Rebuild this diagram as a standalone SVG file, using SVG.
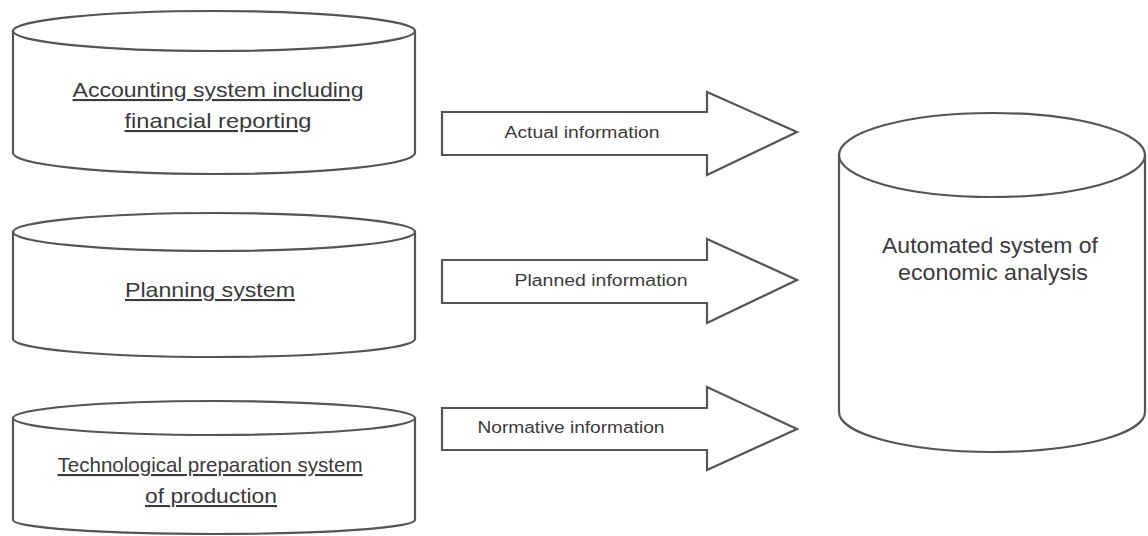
<svg xmlns="http://www.w3.org/2000/svg" width="1148" height="536" viewBox="0 0 1148 536">
<style>
.shape{fill:#fff;stroke:#555;stroke-width:2.2}
.lbl{font-family:"Liberation Sans",Arial,sans-serif;fill:#3a3a3a;text-anchor:middle}
.cyl{font-size:21px;text-decoration:underline}
.arr{font-size:16px}
.big{font-size:22px}
</style>
<rect width="1148" height="536" fill="#fff"/>
<g id="connectors">
<g id="arrow-actual">
<polygon class="shape" points="442,112 707,112 707,92 797,132 707,175 707,155 442,155"/>
<text class="lbl arr" x="582" y="138" textLength="155" lengthAdjust="spacingAndGlyphs">Actual information</text>
</g>
<g id="arrow-planned">
<polygon class="shape" points="442,260 707,260 707,239 797,280 707,323 707,303 442,303"/>
<text class="lbl arr" x="601" y="286" textLength="173" lengthAdjust="spacingAndGlyphs">Planned information</text>
</g>
<g id="arrow-normative">
<polygon class="shape" points="442,408 707,408 707,387 797,429 707,470 707,450 442,450"/>
<text class="lbl arr" x="571" y="433" textLength="187" lengthAdjust="spacingAndGlyphs">Normative information</text>
</g>
</g>
<g id="accounting">
<path class="shape" d="M13,31 L13,153 A201,21 0 0 0 415,153 L415,31 Z"/>
<ellipse class="shape" cx="214" cy="31" rx="201" ry="20"/>
<text class="lbl cyl" x="218" y="97" textLength="291" lengthAdjust="spacingAndGlyphs">Accounting system including</text>
<text class="lbl cyl" x="218" y="128" textLength="187" lengthAdjust="spacingAndGlyphs">financial reporting</text>
</g>
<g id="planning">
<path class="shape" d="M13,232 L13,339 A201,18 0 0 0 415,339 L415,232 Z"/>
<ellipse class="shape" cx="214" cy="232" rx="201" ry="19"/>
<text class="lbl cyl" x="210" y="297" textLength="170" lengthAdjust="spacingAndGlyphs">Planning system</text>
</g>
<g id="technological">
<path class="shape" d="M13,418 L13,520 A201,14 0 0 0 415,520 L415,418 Z"/>
<ellipse class="shape" cx="214" cy="418" rx="201" ry="17"/>
<text class="lbl cyl" x="210" y="472" textLength="305" lengthAdjust="spacingAndGlyphs">Technological preparation system</text>
<text class="lbl cyl" x="211" y="503" textLength="132" lengthAdjust="spacingAndGlyphs">of production</text>
</g>
<g id="automated">
<path class="shape" d="M839,155 L839,412 A153,40 0 0 0 1145,412 L1145,155 Z"/>
<ellipse class="shape" cx="992" cy="155" rx="153" ry="42"/>
<text class="lbl big" x="990" y="253" textLength="216" lengthAdjust="spacingAndGlyphs">Automated system of</text>
<text class="lbl big" x="993" y="280" textLength="190" lengthAdjust="spacingAndGlyphs">economic analysis</text>
</g>
</svg>
